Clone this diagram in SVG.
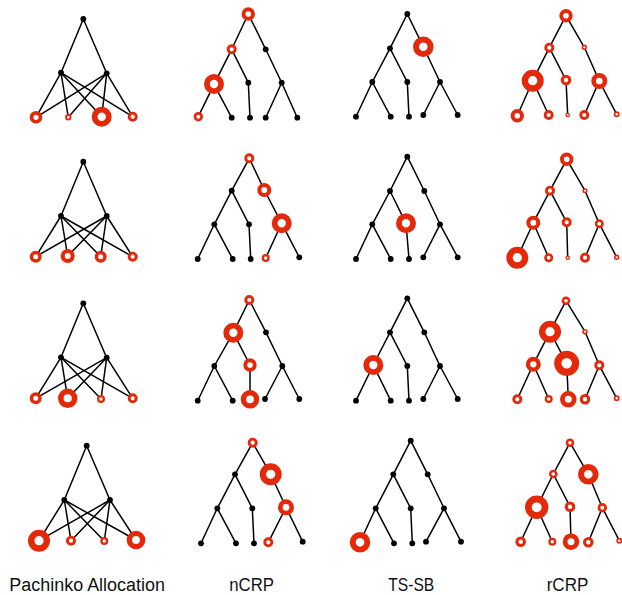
<svg xmlns="http://www.w3.org/2000/svg" width="622" height="595" viewBox="0 0 622 595">
  <style>
    .edges line { stroke: #000; stroke-width: 1.5; stroke-linecap: round; }
    .dot { fill: #000; }
    .ring { fill: #fff; stroke: #e3290a; }
    .k23 { stroke-width: 1.33; } .k25 { stroke-width: 1.45; } .k27 { stroke-width: 1.57; }
    .k30 { stroke-width: 1.74; } .k32 { stroke-width: 1.86; } .k40 { stroke-width: 2.32; }
    .k43 { stroke-width: 2.49; } .k45 { stroke-width: 2.61; } .k47 { stroke-width: 2.73; }
    .k50 { stroke-width: 2.9; } .k53 { stroke-width: 3.07; } .k60 { stroke-width: 3.48; }
    .k63 { stroke-width: 3.65; } .k67 { stroke-width: 3.89; } .k70 { stroke-width: 4.06; }
    .k75 { stroke-width: 4.35; } .k80 { stroke-width: 4.64; } .k83 { stroke-width: 4.81; }
    .k93 { stroke-width: 5.39; } .k97 { stroke-width: 5.63; } .k100 { stroke-width: 5.8; }
    .k103 { stroke-width: 5.97; } .k110 { stroke-width: 6.38; } .k117 { stroke-width: 6.79; }
    .k125 { stroke-width: 7.25; }
    .label { font-family: "Liberation Sans", "DejaVu Sans", sans-serif; font-size: 18px; fill: #111; }
  </style>

  <!-- connectors -->
  <g id="connectors" class="edges">
    <!-- Pachinko, row 1 -->
    <g id="pa1-edges">
      <line x1="83.3" y1="19" x2="61" y2="72.7"/><line x1="83.3" y1="19" x2="106.7" y2="73.3"/>
      <line x1="61" y1="72.7" x2="36" y2="117.3"/><line x1="61" y1="72.7" x2="68.3" y2="117.3"/>
      <line x1="61" y1="72.7" x2="101.7" y2="116.7"/><line x1="61" y1="72.7" x2="132.7" y2="116.7"/>
      <line x1="106.7" y1="73.3" x2="36" y2="117.3"/><line x1="106.7" y1="73.3" x2="68.3" y2="117.3"/>
      <line x1="106.7" y1="73.3" x2="101.7" y2="116.7"/><line x1="106.7" y1="73.3" x2="132.7" y2="116.7"/>
    </g>
    <!-- nCRP, row 1 -->
    <g id="nc1-edges">
      <line x1="248.3" y1="14" x2="231.7" y2="49.3"/><line x1="248.3" y1="14" x2="265.7" y2="49.3"/>
      <line x1="231.7" y1="49.3" x2="214" y2="84.3"/><line x1="231.7" y1="49.3" x2="248.3" y2="82.7"/>
      <line x1="265.7" y1="49.3" x2="281.7" y2="82.7"/>
      <line x1="214" y1="84.3" x2="198.3" y2="116.7"/><line x1="214" y1="84.3" x2="231.7" y2="117.7"/>
      <line x1="248.3" y1="82.7" x2="250" y2="117.7"/>
      <line x1="281.7" y1="82.7" x2="265.7" y2="117.7"/><line x1="281.7" y1="82.7" x2="297.3" y2="117.7"/>
    </g>
    <!-- TS-SB, row 1 -->
    <g id="ts1-edges">
      <line x1="407.3" y1="14" x2="390" y2="48.3"/><line x1="407.3" y1="14" x2="423.3" y2="46.7"/>
      <line x1="390" y1="48.3" x2="372.3" y2="82"/><line x1="390" y1="48.3" x2="407.3" y2="82"/>
      <line x1="423.3" y1="46.7" x2="440" y2="82"/>
      <line x1="372.3" y1="82" x2="356" y2="116.7"/><line x1="372.3" y1="82" x2="390.7" y2="116.7"/>
      <line x1="407.3" y1="82" x2="409" y2="116.7"/>
      <line x1="440" y1="82" x2="423.3" y2="115"/><line x1="440" y1="82" x2="457.7" y2="115"/>
    </g>
    <!-- rCRP, row 1 -->
    <g id="rc1-edges">
      <line x1="566" y1="15.7" x2="549.3" y2="47.7"/><line x1="566" y1="15.7" x2="584.3" y2="47.3"/>
      <line x1="549.3" y1="47.7" x2="532.7" y2="80.7"/><line x1="549.3" y1="47.7" x2="566" y2="80"/>
      <line x1="584.3" y1="47.3" x2="599.3" y2="81"/>
      <line x1="532.7" y1="80.7" x2="517.3" y2="115.7"/><line x1="532.7" y1="80.7" x2="548.7" y2="115"/>
      <line x1="566" y1="80" x2="567.7" y2="115"/>
      <line x1="599.3" y1="81" x2="584.3" y2="115"/><line x1="599.3" y1="81" x2="616.7" y2="114.3"/>
    </g>

    <!-- Pachinko, row 2 -->
    <g id="pa2-edges">
      <line x1="83.3" y1="161.7" x2="61" y2="216"/><line x1="83.3" y1="161.7" x2="106.7" y2="216"/>
      <line x1="61" y1="216" x2="35.7" y2="256.7"/><line x1="61" y1="216" x2="67.7" y2="256"/>
      <line x1="61" y1="216" x2="100.7" y2="256.7"/><line x1="61" y1="216" x2="132.7" y2="256.7"/>
      <line x1="106.7" y1="216" x2="35.7" y2="256.7"/><line x1="106.7" y1="216" x2="67.7" y2="256"/>
      <line x1="106.7" y1="216" x2="100.7" y2="256.7"/><line x1="106.7" y1="216" x2="132.7" y2="256.7"/>
    </g>
    <!-- nCRP, row 2 -->
    <g id="nc2-edges">
      <line x1="249.3" y1="158.3" x2="231.7" y2="190.7"/><line x1="249.3" y1="158.3" x2="264.3" y2="190"/>
      <line x1="231.7" y1="190.7" x2="214.3" y2="224.3"/><line x1="231.7" y1="190.7" x2="249" y2="224.3"/>
      <line x1="264.3" y1="190" x2="281.7" y2="223.3"/>
      <line x1="214.3" y1="224.3" x2="197.7" y2="259"/><line x1="214.3" y1="224.3" x2="232.7" y2="259"/>
      <line x1="249" y1="224.3" x2="250.7" y2="259"/>
      <line x1="281.7" y1="223.3" x2="265.7" y2="258"/><line x1="281.7" y1="223.3" x2="299.3" y2="257.3"/>
    </g>
    <!-- TS-SB, row 2 -->
    <g id="ts2-edges">
      <line x1="407.3" y1="156.7" x2="390" y2="191"/><line x1="407.3" y1="156.7" x2="424.3" y2="191"/>
      <line x1="390" y1="191" x2="372.3" y2="224.3"/><line x1="390" y1="191" x2="406" y2="223.3"/>
      <line x1="424.3" y1="191" x2="440" y2="224.3"/>
      <line x1="372.3" y1="224.3" x2="356" y2="259"/><line x1="372.3" y1="224.3" x2="390.7" y2="259"/>
      <line x1="406" y1="223.3" x2="409" y2="259"/>
      <line x1="440" y1="224.3" x2="423.3" y2="257.3"/><line x1="440" y1="224.3" x2="457.7" y2="257.3"/>
    </g>
    <!-- rCRP, row 2 -->
    <g id="rc2-edges">
      <line x1="566.7" y1="159.3" x2="550" y2="190.7"/><line x1="566.7" y1="159.3" x2="585" y2="190.7"/>
      <line x1="550" y1="190.7" x2="533.3" y2="222.7"/><line x1="550" y1="190.7" x2="566.7" y2="222.3"/>
      <line x1="585" y1="190.7" x2="599.3" y2="223.7"/>
      <line x1="533.3" y1="222.7" x2="517.3" y2="257.7"/><line x1="533.3" y1="222.7" x2="548.7" y2="257.7"/>
      <line x1="566.7" y1="222.3" x2="567.7" y2="257.7"/>
      <line x1="599.3" y1="223.7" x2="585" y2="257.7"/><line x1="599.3" y1="223.7" x2="616.7" y2="257.3"/>
    </g>

    <!-- Pachinko, row 3 -->
    <g id="pa3-edges">
      <line x1="83.3" y1="303.3" x2="61" y2="357.3"/><line x1="83.3" y1="303.3" x2="106.7" y2="357.7"/>
      <line x1="61" y1="357.3" x2="35.7" y2="398.3"/><line x1="61" y1="357.3" x2="67.7" y2="398.3"/>
      <line x1="61" y1="357.3" x2="101" y2="399"/><line x1="61" y1="357.3" x2="132.7" y2="398.3"/>
      <line x1="106.7" y1="357.7" x2="35.7" y2="398.3"/><line x1="106.7" y1="357.7" x2="67.7" y2="398.3"/>
      <line x1="106.7" y1="357.7" x2="101" y2="399"/><line x1="106.7" y1="357.7" x2="132.7" y2="398.3"/>
    </g>
    <!-- nCRP, row 3 -->
    <g id="nc3-edges">
      <line x1="249.3" y1="300" x2="233.3" y2="332.7"/><line x1="249.3" y1="300" x2="266" y2="332.3"/>
      <line x1="233.3" y1="332.7" x2="214.3" y2="366"/><line x1="233.3" y1="332.7" x2="250" y2="365"/>
      <line x1="266" y1="332.3" x2="282.3" y2="366"/>
      <line x1="214.3" y1="366" x2="197.7" y2="400.7"/><line x1="214.3" y1="366" x2="232.7" y2="400.7"/>
      <line x1="250" y1="365" x2="250" y2="399.3"/>
      <line x1="282.3" y1="366" x2="265" y2="399"/><line x1="282.3" y1="366" x2="299.3" y2="399"/>
    </g>
    <!-- TS-SB, row 3 -->
    <g id="ts3-edges">
      <line x1="407.3" y1="298.3" x2="390" y2="332.3"/><line x1="407.3" y1="298.3" x2="424.3" y2="332.3"/>
      <line x1="390" y1="332.3" x2="373.3" y2="365"/><line x1="390" y1="332.3" x2="407.3" y2="366"/>
      <line x1="424.3" y1="332.3" x2="440" y2="366"/>
      <line x1="373.3" y1="365" x2="356" y2="400.7"/><line x1="373.3" y1="365" x2="390.7" y2="400.7"/>
      <line x1="407.3" y1="366" x2="409" y2="400.7"/>
      <line x1="440" y1="366" x2="423.3" y2="399"/><line x1="440" y1="366" x2="457.7" y2="399"/>
    </g>
    <!-- rCRP, row 3 -->
    <g id="rc3-edges">
      <line x1="566" y1="300.7" x2="550" y2="331.7"/><line x1="566" y1="300.7" x2="585" y2="331.7"/>
      <line x1="550" y1="331.7" x2="533.3" y2="364.3"/><line x1="550" y1="331.7" x2="566.7" y2="363.3"/>
      <line x1="585" y1="331.7" x2="599.3" y2="365.3"/>
      <line x1="533.3" y1="364.3" x2="517.3" y2="399.3"/><line x1="533.3" y1="364.3" x2="548.7" y2="399"/>
      <line x1="566.7" y1="363.3" x2="568.3" y2="399.3"/>
      <line x1="599.3" y1="365.3" x2="585" y2="399.3"/><line x1="599.3" y1="365.3" x2="616.7" y2="398.3"/>
    </g>

    <!-- Pachinko, row 4 -->
    <g id="pa4-edges">
      <line x1="86.7" y1="445.7" x2="64.3" y2="500"/><line x1="86.7" y1="445.7" x2="110" y2="500"/>
      <line x1="64.3" y1="500" x2="39" y2="540.7"/><line x1="64.3" y1="500" x2="71" y2="540.7"/>
      <line x1="64.3" y1="500" x2="104.3" y2="541"/><line x1="64.3" y1="500" x2="136" y2="540"/>
      <line x1="110" y1="500" x2="39" y2="540.7"/><line x1="110" y1="500" x2="71" y2="540.7"/>
      <line x1="110" y1="500" x2="104.3" y2="541"/><line x1="110" y1="500" x2="136" y2="540"/>
    </g>
    <!-- nCRP, row 4 -->
    <g id="nc4-edges">
      <line x1="252.7" y1="442.7" x2="235" y2="474.3"/><line x1="252.7" y1="442.7" x2="270.7" y2="474.3"/>
      <line x1="235" y1="474.3" x2="217.3" y2="508.3"/><line x1="235" y1="474.3" x2="252.3" y2="508.3"/>
      <line x1="270.7" y1="474.3" x2="286" y2="507.3"/>
      <line x1="217.3" y1="508.3" x2="201" y2="543.3"/><line x1="217.3" y1="508.3" x2="236" y2="543.3"/>
      <line x1="252.3" y1="508.3" x2="254" y2="543.3"/>
      <line x1="286" y1="507.3" x2="268.3" y2="542.3"/><line x1="286" y1="507.3" x2="302.7" y2="541.7"/>
    </g>
    <!-- TS-SB, row 4 -->
    <g id="ts4-edges">
      <line x1="410.7" y1="440.7" x2="393.3" y2="474.3"/><line x1="410.7" y1="440.7" x2="427.7" y2="474.3"/>
      <line x1="393.3" y1="474.3" x2="375.7" y2="508.3"/><line x1="393.3" y1="474.3" x2="410.7" y2="508.3"/>
      <line x1="427.7" y1="474.3" x2="444" y2="508.3"/>
      <line x1="375.7" y1="508.3" x2="360" y2="542.3"/><line x1="375.7" y1="508.3" x2="394" y2="543.3"/>
      <line x1="410.7" y1="508.3" x2="412.3" y2="543.3"/>
      <line x1="444" y1="508.3" x2="426" y2="541.7"/><line x1="444" y1="508.3" x2="461" y2="541.7"/>
    </g>
    <!-- rCRP, row 4 -->
    <g id="rc4-edges">
      <line x1="570" y1="442.7" x2="553.3" y2="474"/><line x1="570" y1="442.7" x2="588.3" y2="474.3"/>
      <line x1="553.3" y1="474" x2="536.7" y2="507.3"/><line x1="553.3" y1="474" x2="570" y2="506.7"/>
      <line x1="588.3" y1="474.3" x2="602.3" y2="507.7"/>
      <line x1="536.7" y1="507.3" x2="520.7" y2="541.7"/><line x1="536.7" y1="507.3" x2="552.3" y2="541.7"/>
      <line x1="570" y1="506.7" x2="571" y2="541.7"/>
      <line x1="602.3" y1="507.7" x2="588.3" y2="542.3"/><line x1="602.3" y1="507.7" x2="619.3" y2="540.7"/>
    </g>
  </g>

  <!-- nodes: black dots are unused topics, red rings are sized by weight -->
  <g id="nodes">
    <!-- Pachinko, row 1 -->
    <g id="pa1">
      <g id="pa1-root"><circle class="dot" cx="83.3" cy="19" r="2.9"/></g>
      <g id="pa1-m1"><circle class="dot" cx="61" cy="72.7" r="2.9"/></g>
      <g id="pa1-m2"><circle class="dot" cx="106.7" cy="73.3" r="2.9"/></g>
      <g id="pa1-l1"><circle class="ring k63" cx="36" cy="117.3" r="4.47"/></g>
      <g id="pa1-l2"><circle class="ring k32" cx="68.3" cy="117.3" r="2.27"/></g>
      <g id="pa1-l3"><circle class="ring k100" cx="101.7" cy="116.7" r="7.1"/></g>
      <g id="pa1-l4"><circle class="ring k50" cx="132.7" cy="116.7" r="3.55"/></g>
    </g>
    <!-- nCRP, row 1 -->
    <g id="nc1">
      <g id="nc1-root"><circle class="ring k67" cx="248.3" cy="14" r="4.76"/></g>
      <g id="nc1-a"><circle class="ring k50" cx="231.7" cy="49.3" r="3.55"/></g>
      <g id="nc1-b"><circle class="dot" cx="265.7" cy="49.3" r="2.9"/></g>
      <g id="nc1-c"><circle class="ring k100" cx="214" cy="84" r="7.1"/></g>
      <g id="nc1-d"><circle class="dot" cx="248.3" cy="82.7" r="2.9"/></g>
      <g id="nc1-e"><circle class="dot" cx="281.7" cy="82.7" r="2.9"/></g>
      <g id="nc1-l1"><circle class="ring k47" cx="198.3" cy="116.7" r="3.34"/></g>
      <g id="nc1-l2"><circle class="dot" cx="231.7" cy="117.7" r="2.9"/></g>
      <g id="nc1-l3"><circle class="dot" cx="250" cy="117.7" r="2.9"/></g>
      <g id="nc1-l4"><circle class="dot" cx="265.7" cy="117.7" r="2.9"/></g>
      <g id="nc1-l5"><circle class="dot" cx="297.3" cy="117.7" r="2.9"/></g>
    </g>
    <!-- TS-SB, row 1 -->
    <g id="ts1">
      <g id="ts1-root"><circle class="dot" cx="407.3" cy="14" r="2.9"/></g>
      <g id="ts1-a"><circle class="dot" cx="390" cy="48.3" r="2.9"/></g>
      <g id="ts1-b"><circle class="ring k103" cx="423.3" cy="46.7" r="7.31"/></g>
      <g id="ts1-c"><circle class="dot" cx="372.3" cy="82" r="2.9"/></g>
      <g id="ts1-d"><circle class="dot" cx="407.3" cy="82" r="2.9"/></g>
      <g id="ts1-e"><circle class="dot" cx="440" cy="82" r="2.9"/></g>
      <g id="ts1-l1"><circle class="dot" cx="356" cy="116.7" r="2.9"/></g>
      <g id="ts1-l2"><circle class="dot" cx="390.7" cy="116.7" r="2.9"/></g>
      <g id="ts1-l3"><circle class="dot" cx="409" cy="116.7" r="2.9"/></g>
      <g id="ts1-l4"><circle class="dot" cx="423.3" cy="115" r="2.9"/></g>
      <g id="ts1-l5"><circle class="dot" cx="457.7" cy="115" r="2.9"/></g>
    </g>
    <!-- rCRP, row 1 -->
    <g id="rc1">
      <g id="rc1-root"><circle class="ring k67" cx="566" cy="15.7" r="4.76"/></g>
      <g id="rc1-a"><circle class="ring k50" cx="549.3" cy="47.7" r="3.55"/></g>
      <g id="rc1-b"><circle class="ring k27" cx="584.3" cy="47.3" r="1.92"/></g>
      <g id="rc1-c"><circle class="ring k110" cx="532.7" cy="80.7" r="7.81"/></g>
      <g id="rc1-d"><circle class="ring k53" cx="566" cy="80" r="3.76"/></g>
      <g id="rc1-e"><circle class="ring k80" cx="599.3" cy="81" r="5.68"/></g>
      <g id="rc1-l1"><circle class="ring k67" cx="517.3" cy="115.7" r="4.76"/></g>
      <g id="rc1-l2"><circle class="ring k50" cx="548.7" cy="115" r="3.55"/></g>
      <g id="rc1-l3"><circle class="ring k23" cx="567.7" cy="115" r="1.63"/></g>
      <g id="rc1-l4"><circle class="ring k50" cx="584.3" cy="115" r="3.55"/></g>
      <g id="rc1-l5"><circle class="ring k30" cx="616.7" cy="114.3" r="2.13"/></g>
    </g>

    <!-- Pachinko, row 2 -->
    <g id="pa2">
      <g id="pa2-root"><circle class="dot" cx="83.3" cy="161.7" r="2.9"/></g>
      <g id="pa2-m1"><circle class="dot" cx="61" cy="216" r="2.9"/></g>
      <g id="pa2-m2"><circle class="dot" cx="106.7" cy="216" r="2.9"/></g>
      <g id="pa2-l1"><circle class="ring k60" cx="35.7" cy="256.7" r="4.26"/></g>
      <g id="pa2-l2"><circle class="ring k70" cx="67.7" cy="256" r="4.97"/></g>
      <g id="pa2-l3"><circle class="ring k60" cx="100.7" cy="256.7" r="4.26"/></g>
      <g id="pa2-l4"><circle class="ring k50" cx="132.7" cy="256.7" r="3.55"/></g>
    </g>
    <!-- nCRP, row 2 -->
    <g id="nc2">
      <g id="nc2-root"><circle class="ring k50" cx="249.3" cy="158.3" r="3.55"/></g>
      <g id="nc2-a"><circle class="dot" cx="231.7" cy="190.7" r="2.9"/></g>
      <g id="nc2-b"><circle class="ring k70" cx="264.3" cy="190" r="4.97"/></g>
      <g id="nc2-c"><circle class="dot" cx="214.3" cy="224.3" r="2.9"/></g>
      <g id="nc2-d"><circle class="dot" cx="249" cy="224.3" r="2.9"/></g>
      <g id="nc2-e"><circle class="ring k100" cx="281.7" cy="223.3" r="7.1"/></g>
      <g id="nc2-l1"><circle class="dot" cx="197.7" cy="259" r="2.9"/></g>
      <g id="nc2-l2"><circle class="dot" cx="232.7" cy="259" r="2.9"/></g>
      <g id="nc2-l3"><circle class="dot" cx="250.7" cy="259" r="2.9"/></g>
      <g id="nc2-l4"><circle class="ring k40" cx="265.7" cy="258" r="2.84"/></g>
      <g id="nc2-l5"><circle class="dot" cx="299.3" cy="257.3" r="2.9"/></g>
    </g>
    <!-- TS-SB, row 2 -->
    <g id="ts2">
      <g id="ts2-root"><circle class="dot" cx="407.3" cy="156.7" r="2.9"/></g>
      <g id="ts2-a"><circle class="dot" cx="390" cy="191" r="2.9"/></g>
      <g id="ts2-b"><circle class="dot" cx="424.3" cy="191" r="2.9"/></g>
      <g id="ts2-c"><circle class="dot" cx="372.3" cy="224.3" r="2.9"/></g>
      <g id="ts2-d"><circle class="ring k100" cx="406" cy="223.3" r="7.1"/></g>
      <g id="ts2-e"><circle class="dot" cx="440" cy="224.3" r="2.9"/></g>
      <g id="ts2-l1"><circle class="dot" cx="356" cy="259" r="2.9"/></g>
      <g id="ts2-l2"><circle class="dot" cx="390.7" cy="259" r="2.9"/></g>
      <g id="ts2-l3"><circle class="dot" cx="409" cy="259" r="2.9"/></g>
      <g id="ts2-l4"><circle class="dot" cx="423.3" cy="257.3" r="2.9"/></g>
      <g id="ts2-l5"><circle class="dot" cx="457.7" cy="257.3" r="2.9"/></g>
    </g>
    <!-- rCRP, row 2 -->
    <g id="rc2">
      <g id="rc2-root"><circle class="ring k67" cx="566.7" cy="159.3" r="4.76"/></g>
      <g id="rc2-a"><circle class="ring k50" cx="550" cy="190.7" r="3.55"/></g>
      <g id="rc2-b"><circle class="ring k25" cx="585" cy="190.7" r="1.78"/></g>
      <g id="rc2-c"><circle class="ring k70" cx="533.3" cy="222.7" r="4.97"/></g>
      <g id="rc2-d"><circle class="ring k50" cx="566.7" cy="222.3" r="3.55"/></g>
      <g id="rc2-e"><circle class="ring k45" cx="599.3" cy="223.7" r="3.2"/></g>
      <g id="rc2-l1"><circle class="ring k110" cx="517.3" cy="257.7" r="7.81"/></g>
      <g id="rc2-l2"><circle class="ring k45" cx="548.7" cy="257.7" r="3.2"/></g>
      <g id="rc2-l3"><circle class="ring k23" cx="567.7" cy="257.7" r="1.63"/></g>
      <g id="rc2-l4"><circle class="ring k50" cx="585" cy="257.7" r="3.55"/></g>
      <g id="rc2-l5"><circle class="ring k27" cx="616.7" cy="257.3" r="1.92"/></g>
    </g>

    <!-- Pachinko, row 3 -->
    <g id="pa3">
      <g id="pa3-root"><circle class="dot" cx="83.3" cy="303.3" r="2.9"/></g>
      <g id="pa3-m1"><circle class="dot" cx="61" cy="357.3" r="2.9"/></g>
      <g id="pa3-m2"><circle class="dot" cx="106.7" cy="357.7" r="2.9"/></g>
      <g id="pa3-l1"><circle class="ring k60" cx="35.7" cy="398.3" r="4.26"/></g>
      <g id="pa3-l2"><circle class="ring k97" cx="67.7" cy="398.3" r="6.89"/></g>
      <g id="pa3-l3"><circle class="ring k40" cx="101" cy="399" r="2.84"/></g>
      <g id="pa3-l4"><circle class="ring k50" cx="132.7" cy="398.3" r="3.55"/></g>
    </g>
    <!-- nCRP, row 3 -->
    <g id="nc3">
      <g id="nc3-root"><circle class="ring k50" cx="249.3" cy="300" r="3.55"/></g>
      <g id="nc3-a"><circle class="ring k100" cx="233.3" cy="332.7" r="7.1"/></g>
      <g id="nc3-b"><circle class="dot" cx="266" cy="332.3" r="2.9"/></g>
      <g id="nc3-c"><circle class="dot" cx="214.3" cy="366" r="2.9"/></g>
      <g id="nc3-d"><circle class="ring k67" cx="250" cy="365" r="4.76"/></g>
      <g id="nc3-e"><circle class="dot" cx="282.3" cy="366" r="2.9"/></g>
      <g id="nc3-l1"><circle class="dot" cx="197.7" cy="400.7" r="2.9"/></g>
      <g id="nc3-l2"><circle class="dot" cx="232.7" cy="400.7" r="2.9"/></g>
      <g id="nc3-l3"><circle class="ring k93" cx="250" cy="399.3" r="6.6"/></g>
      <g id="nc3-l4"><circle class="dot" cx="265" cy="399" r="2.9"/></g>
      <g id="nc3-l5"><circle class="dot" cx="299.3" cy="399" r="2.9"/></g>
    </g>
    <!-- TS-SB, row 3 -->
    <g id="ts3">
      <g id="ts3-root"><circle class="dot" cx="407.3" cy="298.3" r="2.9"/></g>
      <g id="ts3-a"><circle class="dot" cx="390" cy="332.3" r="2.9"/></g>
      <g id="ts3-b"><circle class="dot" cx="424.3" cy="332.3" r="2.9"/></g>
      <g id="ts3-c"><circle class="ring k100" cx="373.3" cy="365" r="7.1"/></g>
      <g id="ts3-d"><circle class="dot" cx="407.3" cy="366" r="2.9"/></g>
      <g id="ts3-e"><circle class="dot" cx="440" cy="366" r="2.9"/></g>
      <g id="ts3-l1"><circle class="dot" cx="356" cy="400.7" r="2.9"/></g>
      <g id="ts3-l2"><circle class="dot" cx="390.7" cy="400.7" r="2.9"/></g>
      <g id="ts3-l3"><circle class="dot" cx="409" cy="400.7" r="2.9"/></g>
      <g id="ts3-l4"><circle class="dot" cx="423.3" cy="399" r="2.9"/></g>
      <g id="ts3-l5"><circle class="dot" cx="457.7" cy="399" r="2.9"/></g>
    </g>
    <!-- rCRP, row 3 -->
    <g id="rc3">
      <g id="rc3-root"><circle class="ring k43" cx="566" cy="300.7" r="3.05"/></g>
      <g id="rc3-a"><circle class="ring k110" cx="550" cy="331.7" r="7.81"/></g>
      <g id="rc3-b"><circle class="ring k27" cx="585" cy="331.7" r="1.92"/></g>
      <g id="rc3-c"><circle class="ring k75" cx="533.3" cy="364.3" r="5.33"/></g>
      <g id="rc3-d"><circle class="ring k125" cx="566.7" cy="363.3" r="8.88"/></g>
      <g id="rc3-e"><circle class="ring k50" cx="599.3" cy="365.3" r="3.55"/></g>
      <g id="rc3-l1"><circle class="ring k50" cx="517.3" cy="399.3" r="3.55"/></g>
      <g id="rc3-l2"><circle class="ring k40" cx="548.7" cy="399" r="2.84"/></g>
      <g id="rc3-l3"><circle class="ring k83" cx="568.3" cy="399.3" r="5.89"/></g>
      <g id="rc3-l4"><circle class="ring k53" cx="585" cy="399.3" r="3.76"/></g>
      <g id="rc3-l5"><circle class="ring k30" cx="616.7" cy="398.3" r="2.13"/></g>
    </g>

    <!-- Pachinko, row 4 -->
    <g id="pa4">
      <g id="pa4-root"><circle class="dot" cx="86.7" cy="445.7" r="2.9"/></g>
      <g id="pa4-m1"><circle class="dot" cx="64.3" cy="500" r="2.9"/></g>
      <g id="pa4-m2"><circle class="dot" cx="110" cy="500" r="2.9"/></g>
      <g id="pa4-l1"><circle class="ring k110" cx="39" cy="540.7" r="7.81"/></g>
      <g id="pa4-l2"><circle class="ring k50" cx="71" cy="540.7" r="3.55"/></g>
      <g id="pa4-l3"><circle class="ring k40" cx="104.3" cy="541" r="2.84"/></g>
      <g id="pa4-l4"><circle class="ring k93" cx="136" cy="540" r="6.6"/></g>
    </g>
    <!-- nCRP, row 4 -->
    <g id="nc4">
      <g id="nc4-root"><circle class="ring k50" cx="252.7" cy="442.7" r="3.55"/></g>
      <g id="nc4-a"><circle class="dot" cx="235" cy="474.3" r="2.9"/></g>
      <g id="nc4-b"><circle class="ring k110" cx="270.7" cy="474.3" r="7.81"/></g>
      <g id="nc4-c"><circle class="dot" cx="217.3" cy="508.3" r="2.9"/></g>
      <g id="nc4-d"><circle class="dot" cx="252.3" cy="508.3" r="2.9"/></g>
      <g id="nc4-e"><circle class="ring k80" cx="286" cy="507.3" r="5.68"/></g>
      <g id="nc4-l1"><circle class="dot" cx="201" cy="543.3" r="2.9"/></g>
      <g id="nc4-l2"><circle class="dot" cx="236" cy="543.3" r="2.9"/></g>
      <g id="nc4-l3"><circle class="dot" cx="254" cy="543.3" r="2.9"/></g>
      <g id="nc4-l4"><circle class="ring k50" cx="268.3" cy="542.3" r="3.55"/></g>
      <g id="nc4-l5"><circle class="dot" cx="302.7" cy="541.7" r="2.9"/></g>
    </g>
    <!-- TS-SB, row 4 -->
    <g id="ts4">
      <g id="ts4-root"><circle class="dot" cx="410.7" cy="440.7" r="2.9"/></g>
      <g id="ts4-a"><circle class="dot" cx="393.3" cy="474.3" r="2.9"/></g>
      <g id="ts4-b"><circle class="dot" cx="427.7" cy="474.3" r="2.9"/></g>
      <g id="ts4-c"><circle class="dot" cx="375.7" cy="508.3" r="2.9"/></g>
      <g id="ts4-d"><circle class="dot" cx="410.7" cy="508.3" r="2.9"/></g>
      <g id="ts4-e"><circle class="dot" cx="444" cy="508.3" r="2.9"/></g>
      <g id="ts4-l1"><circle class="ring k103" cx="360" cy="542.3" r="7.31"/></g>
      <g id="ts4-l2"><circle class="dot" cx="394" cy="543.3" r="2.9"/></g>
      <g id="ts4-l3"><circle class="dot" cx="412.3" cy="543.3" r="2.9"/></g>
      <g id="ts4-l4"><circle class="dot" cx="426" cy="541.7" r="2.9"/></g>
      <g id="ts4-l5"><circle class="dot" cx="461" cy="541.7" r="2.9"/></g>
    </g>
    <!-- rCRP, row 4 -->
    <g id="rc4">
      <g id="rc4-root"><circle class="ring k43" cx="570" cy="442.7" r="3.05"/></g>
      <g id="rc4-a"><circle class="ring k43" cx="553.3" cy="474" r="3.05"/></g>
      <g id="rc4-b"><circle class="ring k103" cx="588.3" cy="474.3" r="7.31"/></g>
      <g id="rc4-c"><circle class="ring k117" cx="536.7" cy="507.3" r="8.31"/></g>
      <g id="rc4-d"><circle class="ring k53" cx="570" cy="506.7" r="3.76"/></g>
      <g id="rc4-e"><circle class="ring k47" cx="602.3" cy="507.7" r="3.34"/></g>
      <g id="rc4-l1"><circle class="ring k53" cx="520.7" cy="541.7" r="3.76"/></g>
      <g id="rc4-l2"><circle class="ring k40" cx="552.3" cy="541.7" r="2.84"/></g>
      <g id="rc4-l3"><circle class="ring k83" cx="571" cy="541.7" r="5.89"/></g>
      <g id="rc4-l4"><circle class="ring k53" cx="588.3" cy="542.3" r="3.76"/></g>
      <g id="rc4-l5"><circle class="ring k30" cx="619.3" cy="540.7" r="2.13"/></g>
    </g>
  </g>

  <!-- column titles -->
  <g id="titles">
    <text class="label" x="9.3" y="590.5" textLength="155.7" lengthAdjust="spacingAndGlyphs">Pachinko Allocation</text>
    <text class="label" x="229.3" y="590.5" textLength="44.7" lengthAdjust="spacingAndGlyphs">nCRP</text>
    <text class="label" x="388.3" y="590.5" textLength="46" lengthAdjust="spacingAndGlyphs">TS-SB</text>
    <text class="label" x="546.7" y="590.5" textLength="41.7" lengthAdjust="spacingAndGlyphs">rCRP</text>
  </g>
</svg>
